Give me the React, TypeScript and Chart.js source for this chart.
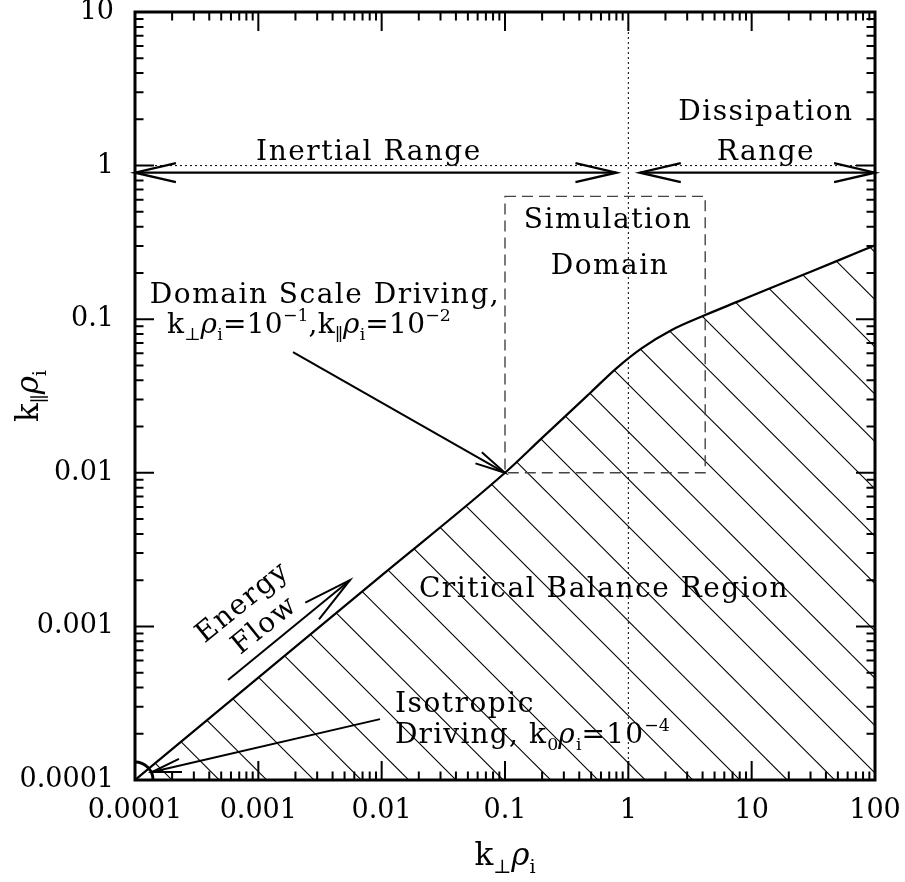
import React, { useEffect, useRef } from 'react';
import { Chart, registerables } from 'chart.js';

Chart.register(...registerables);

// ---- data ----
const curveX = [0.0001, 0.001, 0.01, 0.1, 0.2, 0.32, 0.5, 0.8, 1.28, 2.25, 4.2, 7.8, 14.6, 27.1, 50.5, 100];
const curveY = [0.0001, 0.000464, 0.00215, 0.01, 0.01687, 0.024, 0.0336, 0.0479, 0.0646, 0.0851, 0.1064, 0.1306, 0.1607, 0.1968, 0.2415, 0.303];

const xMajor = [0.0001, 0.001, 0.01, 0.1, 1, 10, 100];
const xTickLabels = ['0.0001', '0.001', '0.01', '0.1', '1', '10', '100'];
const yMajor = [0.0001, 0.001, 0.01, 0.1, 1, 10];
const yTickLabels = ['0.0001', '0.001', '0.01', '0.1', '1', '10'];

const inertialArrow = [[0.0001, 0.9], [0.8, 0.9]];
const dissipationArrow = [[1.24, 0.9], [100, 0.9]];
const domainArrow = [[0.00191, 0.0611], [0.1, 0.01]];
const isoArrow = [[0.0097, 0.000249], [0.0001374, 0.0001127]];
const energyArrow = [[0.000568, 0.000448], [0.00553, 0.002]];
const simBoxX = [0.1, 4.2];
const simBoxY = [0.01, 0.63];
const dividerX = 1;
const dividerY = 1;

type Seg = { t: string; s?: 'sub' | 'sup'; it?: boolean };

const labels: { segs: Seg[]; x: number; y: number; align: 'left' | 'center'; ls: number }[] = [
  { segs: [{ t: 'Inertial Range' }], x: 0.00789, y: 1.088, align: 'center', ls: 1.5 },
  { segs: [{ t: 'Dissipation' }], x: 13.06, y: 1.98, align: 'center', ls: 1.5 },
  { segs: [{ t: 'Range' }], x: 13.06, y: 1.088, align: 'center', ls: 1.5 },
  { segs: [{ t: 'Simulation' }], x: 0.684, y: 0.392, align: 'center', ls: 1.5 },
  { segs: [{ t: 'Domain' }], x: 0.71, y: 0.197, align: 'center', ls: 1.5 },
  { segs: [{ t: 'Domain Scale Driving,' }], x: 0.000132, y: 0.1274, align: 'left', ls: 1.5 },
  {
    segs: [
      { t: 'k' }, { t: '\u22A5', s: 'sub' }, { t: '\u03C1', it: true }, { t: 'i', s: 'sub' },
      { t: '=10' }, { t: '\u22121', s: 'sup' }, { t: ',k' }, { t: '\u2225', s: 'sub' },
      { t: '\u03C1', it: true }, { t: 'i', s: 'sub' }, { t: '=10' }, { t: '\u22122', s: 'sup' },
    ],
    x: 0.0001817, y: 0.0813, align: 'left', ls: 0.3,
  },
  { segs: [{ t: 'Critical Balance Region' }], x: 0.635, y: 0.001553, align: 'center', ls: 1.5 },
  { segs: [{ t: 'Isotropic' }], x: 0.01282, y: 0.000277, align: 'left', ls: 1.5 },
  {
    segs: [
      { t: 'Driving, k' }, { t: '0', s: 'sub' }, { t: '\u03C1', it: true }, { t: 'i', s: 'sub' },
      { t: '=10' }, { t: '\u22124', s: 'sup' },
    ],
    x: 0.01282, y: 0.000174, align: 'left', ls: 1.2,
  },
];

const rotatedLabels = [
  { t: 'Energy', x: 0.000751, y: 0.00142 },
  { t: 'Flow', x: 0.001132, y: 0.001007 },
];

const xTitle: Seg[] = [{ t: 'k' }, { t: '\u22A5', s: 'sub' }, { t: '\u03C1', it: true }, { t: 'i', s: 'sub' }];
const yTitle: Seg[] = [{ t: 'k' }, { t: '\u2225', s: 'sub' }, { t: '\u03C1', it: true }, { t: 'i', s: 'sub' }];

const FONT = '"DejaVu Serif", serif';

function segFont(seg: Seg, size: number) {
  const sz = seg.s ? size * 0.62 : size;
  return `${seg.it ? 'italic ' : ''}${sz}px ${FONT}`;
}

function setLS(ctx: any, v: number) {
  if ('letterSpacing' in ctx) ctx.letterSpacing = `${v}px`;
}

function drawRich(ctx: CanvasRenderingContext2D, segs: Seg[], x: number, y: number, size: number, align: 'left' | 'center', ls = 0) {
  let w = 0;
  for (const s of segs) {
    ctx.font = segFont(s, size);
    setLS(ctx, s.s ? 0 : ls);
    w += ctx.measureText(s.t).width;
  }
  let cx = align === 'center' ? x - w / 2 : x;
  ctx.textAlign = 'left';
  ctx.textBaseline = 'alphabetic';
  for (const s of segs) {
    ctx.font = segFont(s, size);
    setLS(ctx, s.s ? 0 : ls);
    const dy = s.s === 'sub' ? 0.25 * size : s.s === 'sup' ? -0.42 * size : 0;
    ctx.fillText(s.t, cx, y + dy);
    cx += ctx.measureText(s.t).width;
  }
  setLS(ctx, 0);
}

function arrowHead(ctx: CanvasRenderingContext2D, tx: number, ty: number, fx: number, fy: number, len: number, halfDeg: number) {
  const ang = Math.atan2(fy - ty, fx - tx);
  const h = (halfDeg * Math.PI) / 180;
  ctx.beginPath();
  ctx.moveTo(tx + len * Math.cos(ang + h), ty + len * Math.sin(ang + h));
  ctx.lineTo(tx, ty);
  ctx.lineTo(tx + len * Math.cos(ang - h), ty + len * Math.sin(ang - h));
  ctx.stroke();
}

function makeHatch(): CanvasPattern | string {
  const size = 142;
  const c = document.createElement('canvas');
  c.width = size;
  c.height = size;
  const g = c.getContext('2d');
  if (!g) return 'rgba(0,0,0,0)';
  g.strokeStyle = '#000';
  g.lineWidth = 1.1;
  const offsets = [40, 40 + size / 3, 40 + (2 * size) / 3];
  for (const o of offsets) {
    for (const k of [-size, 0, size]) {
      g.beginPath();
      g.moveTo(-10, -10 + o + k);
      g.lineTo(size + 10, size + 10 + o + k);
      g.stroke();
    }
  }
  return g.createPattern(c, 'repeat') || 'rgba(0,0,0,0)';
}

const decorPlugin = {
  id: 'decor',
  afterDatasetsDraw(chart: any) {
    const ctx: CanvasRenderingContext2D = chart.ctx;
    const xs = chart.scales.x;
    const ys = chart.scales.y;
    const area = chart.chartArea;
    const px = (v: number) => xs.getPixelForValue(v);
    const py = (v: number) => ys.getPixelForValue(v);
    ctx.save();
    ctx.strokeStyle = '#000';
    ctx.fillStyle = '#000';
    ctx.lineCap = 'butt';

    // dotted dividers
    ctx.lineWidth = 1;
    ctx.setLineDash([2, 3]);
    ctx.beginPath();
    ctx.moveTo(px(dividerX), area.top);
    ctx.lineTo(px(dividerX), area.bottom);
    ctx.moveTo(area.left, py(dividerY));
    ctx.lineTo(area.right, py(dividerY));
    ctx.stroke();

    // dashed simulation box
    ctx.strokeStyle = '#444';
    ctx.lineWidth = 1.4;
    ctx.setLineDash([11, 6]);
    ctx.beginPath();
    ctx.rect(px(simBoxX[0]), py(simBoxY[1]), px(simBoxX[1]) - px(simBoxX[0]), py(simBoxY[0]) - py(simBoxY[1]));
    ctx.stroke();
    ctx.setLineDash([]);
    ctx.strokeStyle = '#000';

    // double arrows
    ctx.lineWidth = 2.3;
    for (const a of [inertialArrow, dissipationArrow]) {
      const x0 = px(a[0][0]), y0 = py(a[0][1]), x1 = px(a[1][0]), y1 = py(a[1][1]);
      ctx.beginPath();
      ctx.moveTo(x0, y0);
      ctx.lineTo(x1, y1);
      ctx.stroke();
      arrowHead(ctx, x0, y0, x1, y1, 42, 13);
      arrowHead(ctx, x1, y1, x0, y0, 42, 13);
    }
    // single arrows
    const singles: [number[][], number, number][] = [
      [domainArrow, 31, 12],
      [isoArrow, 30, 13],
      [energyArrow, 50, 12.5],
    ];
    ctx.lineWidth = 2;
    for (const [a, len, hd] of singles) {
      const x0 = px(a[0][0]), y0 = py(a[0][1]), x1 = px(a[1][0]), y1 = py(a[1][1]);
      ctx.beginPath();
      ctx.moveTo(x0, y0);
      ctx.lineTo(x1, y1);
      ctx.stroke();
      arrowHead(ctx, x1, y1, x0, y0, len, hd);
    }

    // quarter circle at origin (isotropic driving scale)
    ctx.lineWidth = 3;
    ctx.beginPath();
    ctx.arc(px(curveX[0]), py(curveY[0]), 18, -Math.PI / 2, 0);
    ctx.stroke();

    // texts
    for (const l of labels) {
      drawRich(ctx, l.segs, px(l.x), py(l.y), 28, l.align, l.ls);
    }
    for (const r of rotatedLabels) {
      ctx.save();
      ctx.translate(px(r.x), py(r.y));
      ctx.rotate((-39 * Math.PI) / 180);
      ctx.font = `28px ${FONT}`;
      setLS(ctx, 1.5);
      ctx.textAlign = 'center';
      ctx.textBaseline = 'middle';
      ctx.fillText(r.t, 0, 0);
      setLS(ctx, 0);
      ctx.restore();
    }

    // frame
    ctx.lineWidth = 3;
    ctx.strokeRect(area.left, area.top, area.right - area.left, area.bottom - area.top);

    // ticks on all four sides
    ctx.lineWidth = 2;
    const minorLen = 8.5;
    const majorLen = 19;
    ctx.beginPath();
    for (let d = -4; d <= 2; d++) {
      for (let m = 1; m <= 9; m++) {
        const v = m * Math.pow(10, d);
        if (v > 100.0001) continue;
        const L = m === 1 ? majorLen : minorLen;
        const x = px(v);
        ctx.moveTo(x, area.bottom);
        ctx.lineTo(x, area.bottom - L);
        ctx.moveTo(x, area.top);
        ctx.lineTo(x, area.top + L);
      }
    }
    for (let d = -4; d <= 1; d++) {
      for (let m = 1; m <= 9; m++) {
        const v = m * Math.pow(10, d);
        if (v > 10.0001) continue;
        const L = m === 1 ? majorLen : minorLen;
        const y = py(v);
        ctx.moveTo(area.left, y);
        ctx.lineTo(area.left + L, y);
        ctx.moveTo(area.right, y);
        ctx.lineTo(area.right - L, y);
      }
    }
    ctx.stroke();

    // axis titles
    drawRich(ctx, xTitle, (area.left + area.right) / 2, area.bottom + 85, 31, 'center');
    ctx.save();
    ctx.translate(area.left - 97, (area.top + area.bottom) / 2);
    ctx.rotate(-Math.PI / 2);
    drawRich(ctx, yTitle, 0, 0, 31, 'center');
    ctx.restore();

    ctx.restore();
  },
};

export default function App() {
  const ref = useRef<HTMLCanvasElement | null>(null);
  useEffect(() => {
    const canvas = ref.current;
    if (!canvas) return;
    const chart = new Chart(canvas, {
      type: 'line',
      data: {
        datasets: [
          {
            data: curveX.map((x, i) => ({ x, y: curveY[i] })),
            borderColor: '#000',
            borderWidth: 2.2,
            pointRadius: 0,
            fill: 'start',
            backgroundColor: makeHatch() as any,
            cubicInterpolationMode: 'monotone',
          },
        ],
      },
      options: {
        responsive: false,
        animation: false,
        events: [],
        layout: { padding: { top: 12, right: 30, left: 0, bottom: 0 } },
        plugins: { legend: { display: false }, tooltip: { enabled: false } },
        scales: {
          x: {
            type: 'logarithmic',
            min: 0.0001,
            max: 100,
            grid: { display: false, drawTicks: false },
            border: { display: false },
            ticks: {
              autoSkip: false,
              maxRotation: 0,
              minRotation: 0,
              color: '#000',
              padding: 15,
              font: { family: 'DejaVu Serif', size: 27 },
              callback: (_v: any, i: number) => xTickLabels[i],
            },
            afterBuildTicks: (s: any) => {
              s.ticks = xMajor.map((v) => ({ value: v }));
            },
            afterFit: (s: any) => {
              s.height = 102;
              s.paddingLeft = 0;
              s.paddingRight = 0;
            },
          },
          y: {
            type: 'logarithmic',
            min: 0.0001,
            max: 10,
            grid: { display: false, drawTicks: false },
            border: { display: false },
            ticks: {
              autoSkip: false,
              color: '#000',
              padding: 21,
              font: { family: 'DejaVu Serif', size: 27 },
              callback: (_v: any, i: number) => yTickLabels[i],
            },
            afterBuildTicks: (s: any) => {
              s.ticks = yMajor.map((v) => ({ value: v }));
            },
            afterFit: (s: any) => {
              s.width = 135;
              s.paddingTop = 0;
              s.paddingBottom = 0;
            },
          },
        },
      },
      plugins: [decorPlugin],
    });
    return () => chart.destroy();
  }, []);
  return (
    <div style={{ position: 'absolute', left: 0, top: 0, width: 905, height: 882, background: '#fff' }}>
      <canvas ref={ref} width={905} height={882} style={{ display: 'block' }} />
    </div>
  );
}
